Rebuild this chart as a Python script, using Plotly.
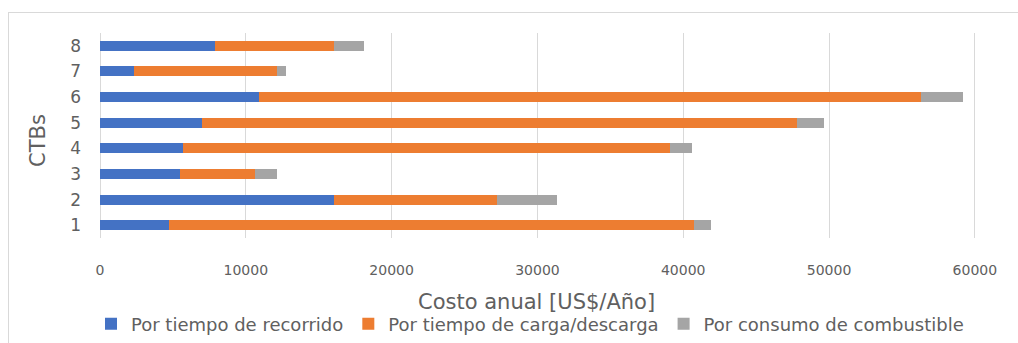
import plotly.graph_objects as go

# Annual cost per CTB, split by component (US$/año)
ctbs = ["1", "2", "3", "4", "5", "6", "7", "8"]
recorrido = [4730, 16070, 5490, 5710, 7020, 10930, 2310, 7890]
carga_descarga = [36010, 11160, 5120, 33410, 40810, 45410, 9830, 8180]
combustible = [1190, 4110, 1530, 1480, 1830, 2820, 640, 2060]

series = [
    ("Por tiempo de recorrido", recorrido, "#4472C4"),
    ("Por tiempo de carga/descarga", carga_descarga, "#ED7D31"),
    ("Por consumo de combustible", combustible, "#A5A5A5"),
]

W, H = 1018, 343
L, R, T, B = 100, 0, 33, 105
pw, ph = W - L - R, H - T - B

def px_x(x):
    return (x - L) / pw

def px_y(y):
    return (H - B - y) / ph

font_family = "DejaVu Sans"
text_color = "#606060"
grid_color = "#D9D9D9"

fig = go.Figure()
for name, vals, color in series:
    fig.add_trace(go.Bar(
        y=ctbs, x=vals, name=name, orientation="h",
        marker=dict(color=color, line=dict(width=0)),
    ))

fig.update_layout(
    width=W, height=H,
    margin=dict(l=L, r=R, t=T, b=B),
    paper_bgcolor="white", plot_bgcolor="white",
    barmode="stack", bargap=0.61,
    font=dict(family=font_family, color=text_color, size=15),
    showlegend=True,
    legend=dict(
        orientation="h", x=px_x(530), xanchor="center",
        y=px_y(324), yanchor="middle",
        font=dict(size=18, color=text_color),
        itemwidth=30, traceorder="normal",
        bgcolor="rgba(0,0,0,0)",
    ),
    xaxis=dict(
        range=[0, 62960], tickmode="linear", tick0=0, dtick=10000,
        showgrid=True, gridcolor=grid_color, gridwidth=1,
        zeroline=True, zerolinecolor=grid_color, zerolinewidth=1,
        showline=False, ticks="", ticklabelstandoff=22,
        tickfont=dict(size=14, color=text_color),
        tickformat="d", fixedrange=True,
    ),
    yaxis=dict(
        type="category", showgrid=False, zeroline=False, showline=False,
        ticks="", ticklabelstandoff=18,
        tickfont=dict(size=17, color=text_color),
        fixedrange=True,
    ),
    annotations=[
        dict(text="Costo anual [US$/Año]", xref="paper", yref="paper",
             x=px_x(536), y=px_y(302), xanchor="center", yanchor="middle",
             showarrow=False, font=dict(size=21, color=text_color)),
        dict(text="CTBs", xref="paper", yref="paper",
             x=px_x(38), y=px_y(140), xanchor="center", yanchor="middle",
             textangle=-90, showarrow=False,
             font=dict(size=21, color=text_color)),
    ],
    shapes=[
        dict(type="line", xref="paper", yref="paper",
             x0=px_x(8), x1=px_x(W + 5), y0=px_y(12.5), y1=px_y(12.5),
             line=dict(color=grid_color, width=1)),
        dict(type="line", xref="paper", yref="paper",
             x0=px_x(8.5), x1=px_x(8.5), y0=px_y(12), y1=px_y(H + 5),
             line=dict(color=grid_color, width=1)),
    ],
)

fig.write_html("out.html", config={"displayModeBar": False})
